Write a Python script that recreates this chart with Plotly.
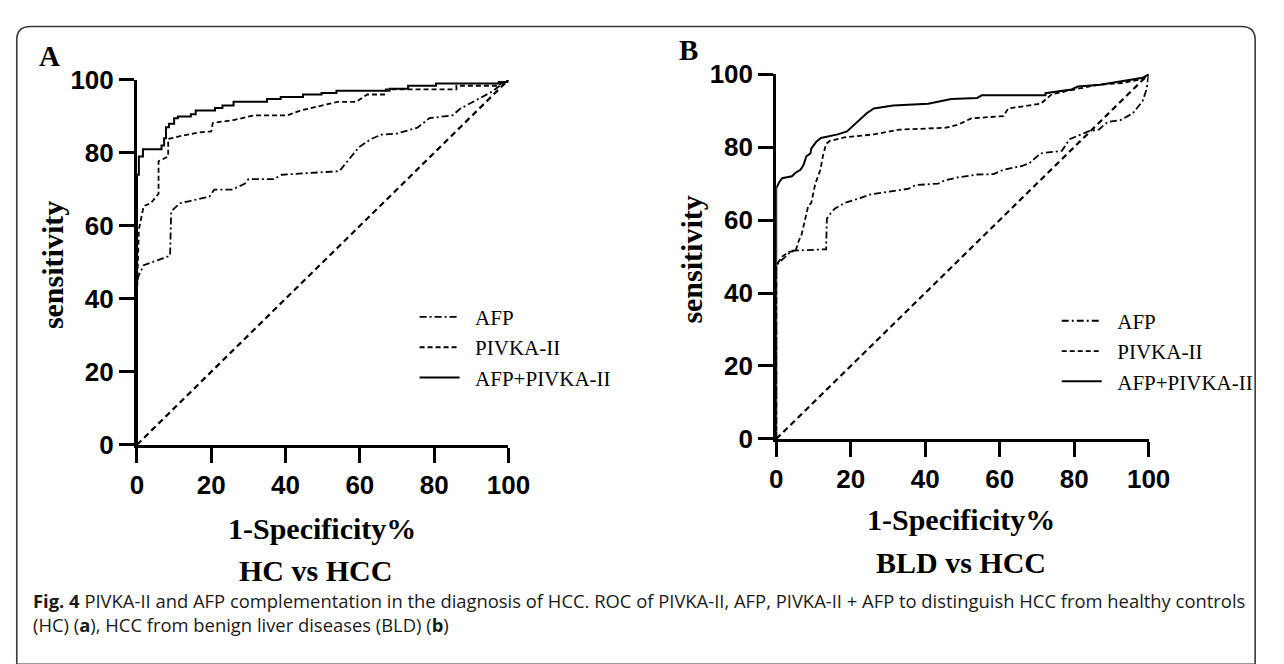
import plotly.graph_objects as go

# ---------------- data ----------------
ticks = [0, 20, 40, 60, 80, 100]
tick_text = ["0", "20", "40", "60", "80", "100"]
series_names = ["AFP", "PIVKA-II", "AFP+PIVKA-II"]

# Panel A: HC vs HCC
a_afp_x = [0, 0, 0.3, 1.8, 3.2, 8.9, 9.2, 11.6, 14.2, 19.5, 20.8, 25.5, 29, 30, 36.8, 39, 54.5, 57, 59.7,
           63, 65.8, 70, 75.5, 78.7, 85, 87, 89.5, 93, 95.8, 98, 100]
a_afp_y = [0, 43.2, 46, 49.2, 49.7, 51.8, 64, 66.2, 66.8, 68, 69.9, 69.9, 71.5, 72.8, 72.8, 74, 75, 78, 81.5,
           83.8, 85, 85.3, 86.9, 89.5, 90.3, 92.1, 93.5, 95.5, 96.9, 98.7, 100]
a_pivka_x = [0, 0, 0.5, 1.8, 3.7, 5.8, 5.8, 8.4, 8.4, 11.6, 16.8, 20, 20.4, 26, 31.6, 40.5, 44, 48.4, 54, 59,
             62, 66.8, 67, 86, 86, 97.4, 98, 100]
a_pivka_y = [0, 42, 59, 65.4, 66.2, 68.8, 77.7, 79, 83.8, 84.6, 85.6, 85.9, 88.2, 89, 90.3, 90.3, 91.6, 92.7,
             94, 94, 96, 96, 97.4, 97.4, 98.4, 98.4, 99, 100]
a_comb_x = [0, 0, 0.5, 0.5, 1.6, 1.6, 6.6, 6.6, 7.3, 7.3, 7.8, 7.8, 8.6, 8.6, 10, 10, 11, 11, 14.5, 14.5,
            15.8, 15.8, 21, 21, 23, 23, 26, 26, 35, 35, 38.7, 38.7, 44.7, 44.7, 49.7, 49.7, 53.7, 53.7,
            68, 68, 73, 73, 80.5, 80.5, 97.4, 97.4, 100, 100]
a_comb_y = [0, 74, 74, 79, 79, 81, 81, 82, 82, 84, 84, 87, 87, 88, 88, 89.5, 89.5, 90, 90, 90.6,
            90.6, 91.6, 91.6, 92.3, 92.3, 93, 93, 94, 94, 94.8, 94.8, 95.3, 95.3, 96, 96, 96.4, 96.4, 97,
            97, 97.6, 97.6, 98.4, 98.4, 99, 99, 99.4, 99.4, 100]

# Panel B: BLD vs HCC
b_afp_x = [0, 0, 4.2, 13, 13.4, 13.6, 14.7, 15.7, 18.3, 22.5, 25.1, 30.4, 35.6, 37.4, 43.5, 45.3, 48.7, 54,
           58.4, 61, 66.2, 68, 71, 76.7, 78.8, 83.8, 86.6, 89, 92.4, 95.8, 98.4, 99.5, 100, 100]
b_afp_y = [0, 47.6, 51.6, 51.8, 52, 60.4, 62, 63.1, 64.7, 66, 67, 67.8, 68.6, 69.6, 70, 70.9, 71.7, 72.5,
           72.6, 73.8, 74.9, 75.6, 78.3, 79, 82.2, 84.3, 84.8, 86.9, 87.4, 89.3, 92.7, 96, 99.2, 100]
b_pivka_x = [0, 0, 1.6, 3.4, 5.2, 6, 6.8, 7.8, 8.6, 9.4, 10.5, 11.8, 12.6, 13.4, 14.4, 18.3, 26.2, 33, 45.3,
             48.7, 52.4, 61, 62.3, 71, 74, 80, 86.4, 93.2, 98.4, 100]
b_pivka_y = [0, 47.6, 50, 51.3, 51.5, 54.2, 56, 60.4, 63.9, 64.7, 70, 73.6, 77.8, 80.9, 81.7, 82.7, 83.5,
             84.8, 85.3, 86.1, 87.9, 88.5, 90.6, 91.9, 94.5, 95.8, 97.1, 97.6, 98.7, 100]
b_comb_x = [0, 0, 0.8, 1.6, 4.2, 5.2, 6.5, 7.3, 8.1, 9.2, 9.4, 10.7, 12, 14.7, 16.5, 19, 20.4, 21.7, 23,
            24.3, 26.2, 31.4, 40.8, 43.5, 47, 54, 55.2, 72.3, 72.3, 79.3, 81, 87, 93.7, 98.4, 100]
b_comb_y = [0, 68.7, 70.4, 71.5, 72, 73, 73.8, 75, 77.5, 78.3, 79.6, 81.4, 82.5, 83, 83.5, 84.3, 85.6,
            86.9, 87.9, 89.3, 90.6, 91.4, 91.9, 92.4, 93.2, 93.5, 94.2, 94.2, 94.8, 95.8, 96.6, 97.1, 98.2,
            99, 100]

ref_x = [0, 100]
ref_y = [0, 100]

panel_titles = ["HC vs HCC", "BLD vs HCC"]
x_title = "1-Specificity%"
y_title = "sensitivity"
caption_1 = ("<b>Fig. 4</b> PIVKA-II and AFP complementation in the diagnosis of HCC. ROC of PIVKA-II, AFP, "
             "PIVKA-II + AFP to distinguish HCC from healthy controls")
caption_2 = "(HC) (<b>a</b>), HCC from benign liver diseases (BLD) (<b>b</b>)"

# ---------------- figure ----------------
W, H = 1284, 664          # design space (page pixels)
SERIF = "Liberation Serif"
SANS = "Liberation Sans"
NB = "\u00a0\u00a0"       # small gap between legend line sample and its label


def px(x):
    return x / W


def py(y):
    return 1 - y / H


dash_afp = "7px,3px,2px,3px"
dash_piv = "5px,3px"
dash_ref = "6px,4px"

fig = go.Figure()

panels = [
    dict(x="x", y="y", legend="legend",
         afp=(a_afp_x, a_afp_y), piv=(a_pivka_x, a_pivka_y), comb=(a_comb_x, a_comb_y)),
    dict(x="x2", y="y2", legend="legend2",
         afp=(b_afp_x, b_afp_y), piv=(b_pivka_x, b_pivka_y), comb=(b_comb_x, b_comb_y)),
]

for p in panels:
    fig.add_trace(go.Scatter(x=ref_x, y=ref_y, mode="lines", xaxis=p["x"], yaxis=p["y"],
                             line=dict(color="black", width=2.2, dash=dash_ref),
                             showlegend=False, hoverinfo="skip"))
    fig.add_trace(go.Scatter(x=p["afp"][0], y=p["afp"][1], mode="lines", name=NB + series_names[0],
                             xaxis=p["x"], yaxis=p["y"], legend=p["legend"],
                             line=dict(color="black", width=1.8, dash=dash_afp)))
    fig.add_trace(go.Scatter(x=p["piv"][0], y=p["piv"][1], mode="lines", name=NB + series_names[1],
                             xaxis=p["x"], yaxis=p["y"], legend=p["legend"],
                             line=dict(color="black", width=1.8, dash=dash_piv)))
    fig.add_trace(go.Scatter(x=p["comb"][0], y=p["comb"][1], mode="lines", name=NB + series_names[2],
                             xaxis=p["x"], yaxis=p["y"], legend=p["legend"],
                             line=dict(color="black", width=2.0)))

axis_common = dict(range=[0, 100], tickvals=ticks, ticktext=tick_text, showline=True, linewidth=3,
                   linecolor="black", ticks="outside", ticklen=15, tickwidth=3, tickcolor="black",
                   showgrid=False, zeroline=False, fixedrange=True,
                   tickfont=dict(family=SANS, size=26, color="black", weight="bold"))

# panel A: x 133..513 px, y 450..68 px ; panel B: x 787..1168 px, y 444..62 px
fig.update_layout(
    xaxis=dict(domain=[px(133), px(513)], anchor="y", **axis_common),
    yaxis=dict(domain=[py(450), py(68)], anchor="x", **axis_common),
    xaxis2=dict(domain=[px(787), px(1168)], anchor="y2", **axis_common),
    yaxis2=dict(domain=[py(444), py(62)], anchor="x2", **axis_common),
)

legend_common = dict(font=dict(family=SERIF, size=21, color="black"), bgcolor="rgba(0,0,0,0)",
                     tracegroupgap=0, itemwidth=40, xanchor="left", yanchor="middle",
                     traceorder="normal")
fig.update_layout(
    legend=dict(x=px(417), y=py(348), **legend_common),
    legend2=dict(x=px(1074), y=py(352), **legend_common),
)

ann = []
ann.append(dict(text="<b>A</b>", x=px(43), y=py(43)))
ann.append(dict(text="<b>B</b>", x=px(697), y=py(37)))
for a in ann:
    a.update(xref="paper", yref="paper", showarrow=False, xanchor="center", yanchor="middle",
             font=dict(family=SERIF, size=29, color="black"))

titles = [
    dict(text="<b>%s</b>" % y_title, x=px(46), y=py(262), textangle=-90),
    dict(text="<b>%s</b>" % y_title, x=px(700), y=py(256), textangle=-90),
    dict(text="<b>%s</b>" % x_title, x=px(322), y=py(538)),
    dict(text="<b>%s</b>" % x_title, x=px(976), y=py(528)),
    dict(text="<b>%s</b>" % panel_titles[0], x=px(316), y=py(582)),
    dict(text="<b>%s</b>" % panel_titles[1], x=px(976), y=py(573)),
]
for t in titles:
    t.update(xref="paper", yref="paper", showarrow=False, xanchor="center", yanchor="middle",
             font=dict(family=SERIF, size=30, color="black"))
ann += titles

# caption as one two-line text block
ann.append(dict(text=caption_1 + "<br>" + caption_2, x=px(25), y=py(626),
                xref="paper", yref="paper", showarrow=False, xanchor="left", yanchor="middle",
                align="left", font=dict(family="Open Sans", size=18.4, color="#1a1a1a")))

# rounded outer frame
x0, y0, x1, y1, r = 10, 12, 1277, 680, 14
path = ("M {a},{b} L {c},{b} Q {d},{b} {d},{e} L {d},{f} L {g},{f} L {g},{e} Q {g},{b} {a},{b} Z"
        .format(a=px(x0 + r), b=py(y0), c=px(x1 - r), d=px(x1), e=py(y0 + r), f=py(y1), g=px(x0)))

fig.update_layout(
    width=W - 16, height=H - 16, autosize=False,
    margin=dict(l=0, r=0, t=0, b=0, pad=0),
    paper_bgcolor="white", plot_bgcolor="white",
    annotations=ann,
    shapes=[dict(type="path", path=path, xref="paper", yref="paper",
                 line=dict(color="#3a3a3a", width=1.6), fillcolor="rgba(0,0,0,0)", layer="below")],
    showlegend=True,
)

post = """
var st=document.createElement('style');
st.innerHTML='html,body{margin:0 !important;padding:0 !important;overflow:hidden !important;}';
document.head.appendChild(st);
var gd=document.getElementById('{plot_id}');
if(gd.parentElement){gd.parentElement.style.margin='0';}
var ww=window.innerWidth, hh=window.innerHeight;
gd.style.width=ww+'px'; gd.style.height=hh+'px';
Plotly.relayout(gd,{width:ww,height:hh});
"""

fig.write_html("out.html", config={"displayModeBar": False}, post_script=post)
